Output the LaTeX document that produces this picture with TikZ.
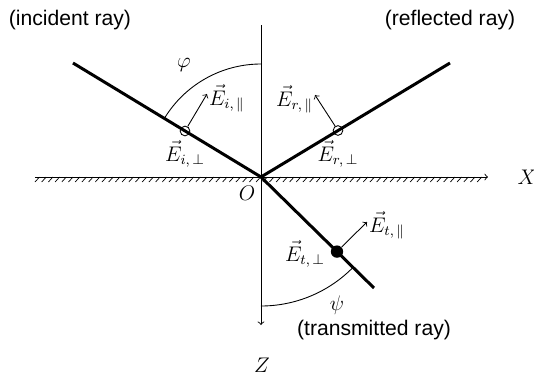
\documentclass[tikz,border=0pt]{standalone}
\usepackage{amsmath}
\DeclareMathSizes{12}{12}{8.5}{6}
\usepackage{fontspec}
\setsansfont{Liberation Sans}
\begin{document}
\begin{tikzpicture}[x=0.568pt,y=0.568pt,font=\large,
  raylabel/.style={font=\sffamily\large},
  ray/.style={line width=1.7pt},
  thinline/.style={line width=0.5pt},
  pol/.style={thinline,->},
  opencirc/.style={draw,circle,thinline,minimum size=5.5pt,inner sep=0pt},
  mlabel/.style={inner sep=1pt}]
\useasboundingbox (-261,-197) rectangle (273,177);
% axes
\coordinate (O) at (0,0);
\coordinate (ztop) at (0,152);
\coordinate (zbot) at (0,-148);
\coordinate (xl) at (-226,0);
\coordinate (xr) at (227,0);
\draw[thinline,->] (ztop) -- (zbot);
\draw[thinline,->] (xl) -- (xr);
\foreach \x in {-226,-219.3,...,218} \draw[line width=0.4pt] (\x,-5) -- (\x+4.5,0);
\node (X) at (266,0) {$X$};
\node (Z) at (1,-188) {$Z$};
\node (Olab) at (-14,-16) {$O$};
% rays
\coordinate (inc) at (-188,114);
\coordinate (ref) at (189,114);
\coordinate (tra) at (113,-111);
\draw[ray] (inc) -- (O);
\draw[ray] (O) -- (ref);
\draw[ray] (O) -- (tra);
% arcs
\draw[thinline] (0,113) arc[start angle=90,end angle=148.8,radius=113];
\draw[thinline] (0,-129) arc[start angle=-90,end angle=-44.5,radius=129];
\node (phi) at (-77,112) {$\varphi$};
\node (psi) at (76,-128) {$\psi$};
% labels
\node[raylabel] (incl) at (-191,157) {(incident ray)};
\node[raylabel] (refl) at (189,157) {(reflected ray)};
\node[raylabel] (tral) at (113,-153) {(transmitted ray)};
% polarisation, incident
\node[opencirc] (ci) at (-76,46) {};
\coordinate (ai) at (-54,83);
\draw[pol] (ci) -- (ai);
\node[mlabel,anchor=west] (Eipar) at ([yshift=-2.5pt]ai) {$\vec{E}_{i,\,\parallel}$};
\node (Eiperp) at (-76,23) {$\vec{E}_{i,\,\perp}$};
% reflected
\node[opencirc] (cr) at (77,46.5) {};
\coordinate (ar) at (54,82);
\draw[pol] (cr) -- (ar);
\node[mlabel,anchor=east] (Erpar) at ([yshift=-2.5pt]ar) {$\vec{E}_{r,\,\parallel}$};
\node (Erperp) at (77,23) {$\vec{E}_{r,\,\perp}$};
% transmitted
\node[fill,circle,minimum size=7pt,inner sep=0pt] (ct) at (76,-74.6) {};
\coordinate (at) at (106,-45);
\draw[pol] (ct) -- (at);
\node[mlabel,anchor=west] (Etpar) at ([yshift=-2pt]at) {$\vec{E}_{t,\,\parallel}$};
\node (Etperp) at (44,-77) {$\vec{E}_{t,\,\perp}$};
\end{tikzpicture}
\end{document}
